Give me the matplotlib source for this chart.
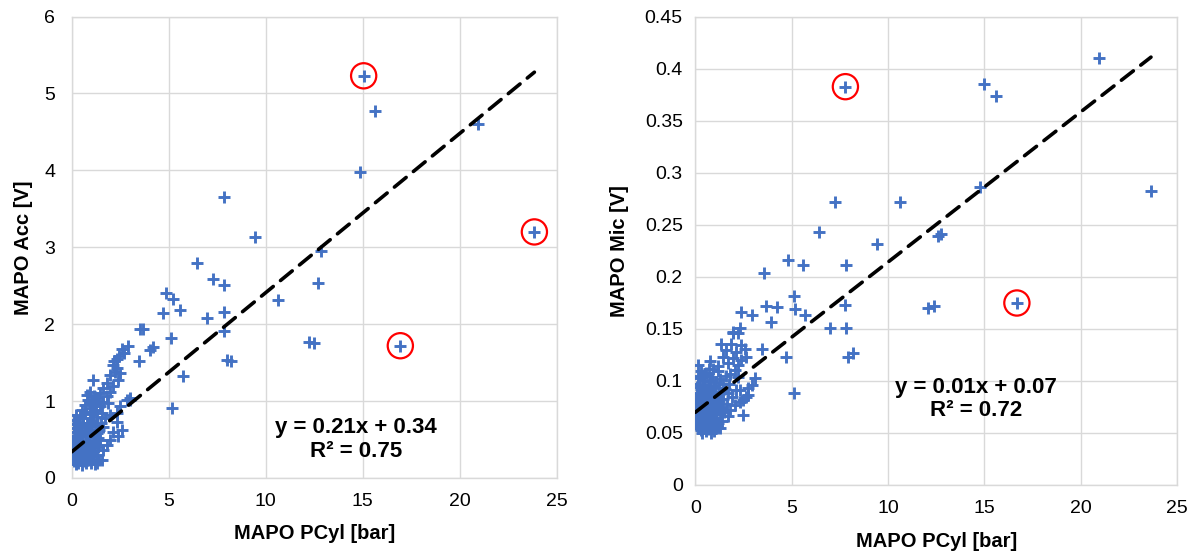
import matplotlib
matplotlib.use("Agg")
import matplotlib.pyplot as plt
from matplotlib.ticker import FuncFormatter
import numpy as np

plt.rcParams["font.family"] = ["Liberation Sans", "DejaVu Sans"]

# ---------------- MAPO Acc vs MAPO PCyl ----------------
pcyl_acc = [
    # isolated cycles
    15.05, 15.64, 20.92, 14.85, 23.85, 7.87, 9.46, 12.85, 6.46, 7.28, 7.83, 12.70,
    4.86, 5.21, 10.66, 4.69, 5.59, 7.83, 7.00, 3.52, 3.66, 7.87, 5.12, 12.24,
    12.50, 16.94, 2.92, 2.57, 4.04, 4.20, 3.49, 8.01, 8.21, 5.73, 5.16, 2.99,
    # rising branch
    2.15, 2.33, 2.24, 2.50, 1.98, 2.41, 1.81, 2.15, 1.63, 1.98, 1.46, 1.81,
    1.29, 1.63, 1.12, 1.46, 0.95, 1.89, 2.85, 3.02, 2.50, 2.33, 1.98, 1.09,
    2.45, 2.70, 2.20, 2.35,
    # lower right of the cloud
    2.33, 2.59, 2.15, 2.41, 1.98, 1.81, 1.63, 1.55, 1.29,
    # dense cloud near the origin
    0.05, 0.08, 0.10, 0.12, 0.15, 0.18, 0.20, 0.22, 0.25, 0.28, 0.30, 0.32,
    0.35, 0.38, 0.40, 0.42, 0.45, 0.48, 0.50, 0.52, 0.55, 0.58, 0.60, 0.62,
    0.65, 0.68, 0.70, 0.72, 0.75, 0.78, 0.80, 0.82, 0.85, 0.88, 0.90, 0.92,
    0.95, 0.98, 1.00, 1.02, 1.05, 1.08, 1.10, 1.12, 1.15, 1.18, 1.20, 1.22,
    1.25, 1.28, 1.30, 1.33, 1.36, 1.40, 1.42, 1.45, 1.50, 1.55, 1.60, 1.70,
    0.06, 0.10, 0.14, 0.03, 0.20, 0.26, 0.16, 0.36, 0.44, 0.55, 0.70, 0.66,
    0.85, 1.00, 0.58, 0.78, 0.95, 1.15, 1.25, 1.35, 0.30, 0.47, 0.62, 0.88,
    1.05, 1.12, 0.40, 0.75, 0.93, 1.38,
]
acc = [
    5.23, 4.77, 4.60, 3.98, 3.20, 3.66, 3.13, 2.95, 2.80, 2.59, 2.51, 2.54,
    2.41, 2.33, 2.32, 2.15, 2.18, 2.16, 2.08, 1.94, 1.94, 1.91, 1.82, 1.77,
    1.76, 1.72, 1.72, 1.68, 1.67, 1.70, 1.52, 1.53, 1.52, 1.33, 0.91, 1.02,
    1.47, 1.43, 1.38, 1.36, 1.34, 1.27, 1.23, 1.19, 1.17, 1.12, 1.10, 1.06,
    1.04, 0.99, 0.97, 0.93, 0.91, 0.97, 1.01, 1.04, 0.93, 0.84, 0.82, 1.27,
    1.58, 1.62, 1.52, 1.55,
    0.73, 0.62, 0.60, 0.54, 0.49, 0.43, 0.36, 0.23, 0.19,
    0.28, 0.35, 0.22, 0.45, 0.30, 0.60, 0.18, 0.38, 0.52, 0.25, 0.72, 0.41,
    0.20, 0.33, 0.58, 0.47, 0.26, 0.66, 0.36, 0.17, 0.50, 0.29, 0.78, 0.42,
    0.22, 0.61, 0.34, 0.53, 0.19, 0.45, 0.70, 0.28, 0.39, 0.57, 0.23, 0.83,
    0.48, 0.32, 0.64, 0.20, 0.41, 0.75, 0.27, 0.55, 0.36, 0.88, 0.18, 0.46,
    0.68, 0.30, 0.58, 0.79, 0.40, 0.24, 0.62, 0.50, 0.72, 0.85, 0.66, 0.78,
    0.50, 0.65, 0.75, 0.42, 0.82, 0.70, 0.55, 0.62, 0.80, 0.88, 0.95, 0.84,
    1.02, 0.98, 0.72, 1.08, 1.12, 1.06, 0.95, 1.00, 0.48, 0.56, 0.31, 0.68,
    0.86, 0.35, 0.25, 0.40, 0.72, 0.52,
]
acc_circled = [0, 4, 25]          # indices of highlighted cycles
acc_slope, acc_intercept, acc_r2 = 0.207, 0.34, 0.75

# ---------------- MAPO Mic vs MAPO PCyl ----------------
pcyl_mic = [
    # isolated cycles
    20.93, 7.79, 15.00, 15.60, 23.65, 7.24, 10.62, 14.78, 9.44, 12.61, 12.73, 6.44,
    4.82, 5.57, 7.83, 3.56, 5.12, 3.66, 4.22, 5.16, 5.69, 7.79, 2.36, 2.93,
    3.94, 7.00, 7.83, 2.34, 1.96, 3.45, 4.69, 7.95, 8.20, 5.14, 12.07, 12.38,
    16.69,
    # rising branch
    1.96, 2.21, 1.35, 1.87, 2.39, 1.61, 2.13, 2.56, 1.44, 1.96, 2.39, 1.70,
    2.21, 2.65, 0.14, 0.75, 1.18, 2.04, 1.78, 2.21, 3.08, 2.73, 2.65, 2.48,
    2.04, 1.70, 2.30, 2.13, 0.83, 0.31, 0.03, 1.27, 2.93, 2.75, 2.49, 2.32,
    # dense cloud near the origin
    0.05, 0.08, 0.10, 0.12, 0.15, 0.18, 0.20, 0.22, 0.25, 0.28, 0.30, 0.33,
    0.35, 0.38, 0.40, 0.42, 0.45, 0.48, 0.50, 0.52, 0.55, 0.58, 0.60, 0.62,
    0.65, 0.68, 0.70, 0.72, 0.75, 0.78, 0.80, 0.82, 0.85, 0.88, 0.90, 0.92,
    0.95, 0.98, 1.00, 1.02, 1.05, 1.08, 1.10, 1.12, 1.15, 1.18, 1.20, 1.22,
    1.25, 1.28, 1.30, 1.33, 1.36, 1.40, 1.42, 1.45, 1.50, 1.55, 1.60, 1.65,
    1.70, 1.75, 1.80, 1.90,
    0.03, 0.06, 0.10, 0.14, 0.17, 0.24, 0.27, 0.32, 0.37, 0.44, 0.53, 0.57,
    0.63, 0.66, 0.74, 0.77, 0.86, 0.94, 1.03, 1.06, 1.14, 1.24, 0.46, 0.30,
    0.15, 0.70, 0.90, 0.55, 0.35, 0.95, 1.15,
]
mic = [
    0.411, 0.383, 0.386, 0.374, 0.283, 0.272, 0.272, 0.287, 0.232, 0.239, 0.241, 0.243,
    0.216, 0.212, 0.212, 0.2035, 0.182, 0.172, 0.171, 0.1695, 0.163, 0.173, 0.166, 0.163,
    0.157, 0.1507, 0.1507, 0.151, 0.146, 0.131, 0.123, 0.123, 0.127, 0.088, 0.170, 0.172,
    0.175,
    0.147, 0.146, 0.136, 0.136, 0.135, 0.130, 0.128, 0.131, 0.123, 0.122, 0.120, 0.117,
    0.115, 0.123, 0.115, 0.119, 0.114, 0.111, 0.107, 0.104, 0.1026, 0.093, 0.085, 0.067,
    0.077, 0.066, 0.080, 0.091, 0.050, 0.053, 0.059, 0.0545, 0.096, 0.0865, 0.0817, 0.091,
    0.062, 0.075, 0.058, 0.088, 0.068, 0.097, 0.055, 0.081, 0.105, 0.064, 0.092, 0.072,
    0.058, 0.085, 0.100, 0.066, 0.078, 0.094, 0.056, 0.071, 0.087, 0.108, 0.063, 0.079,
    0.096, 0.054, 0.070, 0.084, 0.101, 0.060, 0.075, 0.090, 0.065, 0.104, 0.058, 0.082,
    0.095, 0.069, 0.088, 0.056, 0.077, 0.099, 0.064, 0.086, 0.072, 0.110, 0.060, 0.093,
    0.080, 0.068, 0.102, 0.088, 0.075, 0.062, 0.097, 0.083, 0.070, 0.092, 0.105, 0.078,
    0.088, 0.097, 0.072, 0.085,
    0.070, 0.083, 0.094, 0.078, 0.063, 0.070, 0.086, 0.061, 0.077, 0.090, 0.064, 0.081,
    0.070, 0.086, 0.066, 0.092, 0.078, 0.062, 0.094, 0.068, 0.081, 0.074, 0.106, 0.110,
    0.103, 0.112, 0.112, 0.052, 0.050, 0.052, 0.055,
]
mic_circled = [1, 36]
mic_slope, mic_intercept, mic_r2 = 0.01444, 0.0699, 0.72

x_ticks = [0, 5, 10, 15, 20, 25]
acc_ticks = [0, 1, 2, 3, 4, 5, 6]
mic_ticks = [0, 0.05, 0.1, 0.15, 0.2, 0.25, 0.3, 0.35, 0.4, 0.45]

BLUE = "#4472C4"
GRID = "#D9D9D9"

fig = plt.figure(figsize=(11.9, 5.52), dpi=100)
ax1 = fig.add_axes([0.06025, 0.13406, 0.40756, 0.83587])
ax2 = fig.add_axes([0.58429, 0.12138, 0.40479, 0.84783])


def draw_panel(ax, x, y, circled, slope, intercept, r2, yticks, ylabel,
               text_xy, ylabel_x, xlabel_y, ypad):
    x = np.asarray(x)
    y = np.asarray(y)
    ax.plot(x, y, linestyle="none", marker="+", markersize=8, mew=2.1,
            color=BLUE, zorder=3)
    xs = np.array([0.0, x.max()])
    ax.plot(xs, slope * xs + intercept, color="black", lw=2.6,
            dashes=(4.2, 2.6), dash_capstyle="round", zorder=4)
    ax.scatter(x[circled], y[circled], s=330, facecolors="none",
               edgecolors="#FF0000", linewidths=1.6, zorder=5)
    ax.text(text_xy[0], text_xy[1],
            f"y = {slope:.2f}x + {intercept:.2f}\nR² = {r2:.2f}",
            ha="center", va="center", fontsize=16, fontweight="bold",
            linespacing=1.15, zorder=6)

    ax.set_xlim(0, 25)
    ax.set_ylim(yticks[0], yticks[-1])
    ax.set_xticks(x_ticks)
    ax.set_yticks(yticks)
    ax.yaxis.set_major_formatter(FuncFormatter(lambda v, p: f"{v:g}"))
    ax.grid(True, color=GRID, linewidth=1.0)
    ax.set_axisbelow(True)
    for sp in ax.spines.values():
        sp.set_color(GRID)
        sp.set_linewidth(1.0)
    ax.tick_params(length=0, labelsize=14, colors="#000000")
    ax.tick_params(axis="x", pad=10.5)
    ax.tick_params(axis="y", pad=ypad)
    ax.set_xlabel("MAPO PCyl [bar]", fontsize=14.5, fontweight="bold",
                  va="center")
    ax.set_ylabel(ylabel, fontsize=14.5, fontweight="bold", va="center")
    ax.xaxis.set_label_coords(0.5, xlabel_y)
    ax.yaxis.set_label_coords(ylabel_x, 0.5)


draw_panel(ax1, pcyl_acc, acc, acc_circled, acc_slope, acc_intercept, acc_r2,
           acc_ticks, "MAPO Acc [V]", (14.66, 0.50), -0.0985, -0.1195, 12)
draw_panel(ax2, pcyl_mic, mic, mic_circled, mic_slope, mic_intercept, mic_r2,
           mic_ticks, "MAPO Mic [V]", (14.55, 0.0825), -0.1566, -0.1215, 9)

fig.savefig("out.png", dpi=100)
